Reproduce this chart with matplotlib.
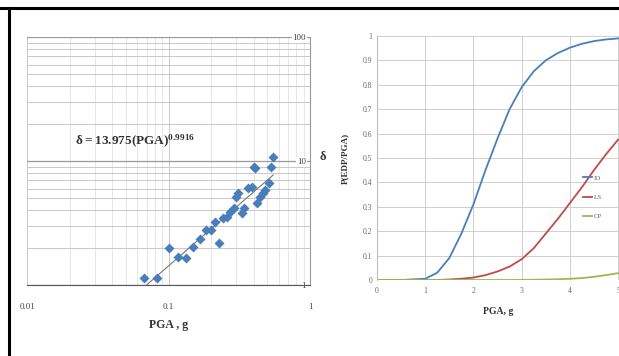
import numpy as np
import matplotlib
matplotlib.use("Agg")
import matplotlib.pyplot as plt
from matplotlib.ticker import LogLocator, NullFormatter

plt.rcParams["font.family"] = ["Liberation Serif", "DejaVu Serif"]

# left panel: drift vs PGA (log-log)
pga_pts = [0.067, 0.083, 0.100, 0.116, 0.133, 0.150, 0.166, 0.184, 0.199, 0.213,
           0.229, 0.242, 0.258, 0.272, 0.288, 0.300, 0.312, 0.333, 0.344, 0.367,
           0.388, 0.403, 0.409, 0.425, 0.444, 0.469, 0.481, 0.516, 0.527, 0.551]
drift_pts = [1.13, 1.13, 1.98, 1.69, 1.64, 2.04, 2.34, 2.78, 2.78, 3.24,
             2.17, 3.45, 3.56, 3.90, 4.15, 5.16, 5.48, 3.78, 4.15, 6.02,
             6.21, 9.00, 8.70, 4.56, 5.16, 5.48, 5.84, 6.61, 9.00, 10.8]
fit_a = 13.975
fit_b = 0.9916
fit_range = [0.067, 0.55]

# right panel: fragility curves
pga_grid = [0, 0.5, 1.0, 1.25, 1.5, 1.75, 2.0, 2.25, 2.5, 2.75, 3.0, 3.25,
            3.5, 3.75, 4.0, 4.25, 4.5, 4.75, 5.0]
p_io = [0, 0, 0.005, 0.03, 0.09, 0.19, 0.31, 0.45, 0.58, 0.70, 0.79, 0.855,
        0.90, 0.93, 0.952, 0.968, 0.979, 0.986, 0.99]
p_ls = [0, 0, 0, 0, 0.002, 0.005, 0.01, 0.02, 0.035, 0.055, 0.085, 0.13,
        0.19, 0.25, 0.315, 0.38, 0.45, 0.515, 0.575]
p_cp = [0, 0, 0, 0, 0, 0, 0, 0, 0, 0, 0.0005, 0.001,
        0.002, 0.003, 0.005, 0.008, 0.013, 0.02, 0.028]
curve_labels = ["IO", "LS", "CP"]
curve_colors = ["#4A7EBB", "#BE4B48", "#98B954"]

W, H = 619, 356
fig = plt.figure(figsize=(W / 100, H / 100), dpi=100)

# black frame lines (top and left)
fig.add_artist(plt.Line2D([0, 1], [1 - 8 / H, 1 - 8 / H], color="black", lw=2.2))
fig.add_artist(plt.Line2D([8.5 / W, 8.5 / W], [0, 1 - 8 / H], color="black", lw=2.2))

# ---- left panel ----
ax1 = fig.add_axes([27 / W, 1 - 285 / H, 283 / W, 248 / H])
ax1.set_xscale("log")
ax1.set_yscale("log")
ax1.set_xlim(0.01, 1)
ax1.set_ylim(1, 100)
ax1.xaxis.set_minor_locator(LogLocator(base=10, subs=np.arange(2, 10)))
ax1.yaxis.set_minor_locator(LogLocator(base=10, subs=np.arange(2, 10)))
ax1.xaxis.set_minor_formatter(NullFormatter())
ax1.yaxis.set_minor_formatter(NullFormatter())
ax1.grid(which="major", axis="y", color="#9a9a9a", lw=0.9)
ax1.grid(which="minor", axis="y", color="#c8c8c8", lw=0.7)
ax1.grid(which="major", axis="x", color="#c8c8c8", lw=0.7)
ax1.grid(which="minor", axis="x", color="#e2e2e2", lw=0.6)
for s in ["top", "left"]:
    ax1.spines[s].set_visible(False)
ax1.spines["bottom"].set_color("#555555")
ax1.spines["right"].set_color("#9a9a9a")
ax1.spines["right"].set_linewidth(0.8)
ax1.set_xticks([0.01, 0.1, 1])
ax1.set_xticklabels(["0.01", "0.1", "1"])
ax1.yaxis.tick_right()
ax1.set_yticks([1, 10, 100])
ax1.set_yticklabels(["1", "10", "100"])
ax1.tick_params(which="both", length=0)
ax1.tick_params(axis="x", labelsize=6.5, colors="#444444", pad=13)
ax1.tick_params(axis="y", labelsize=6.5, colors="#444444", pad=-3)
for lab in ax1.get_yticklabels():
    lab.set_ha("right")
    lab.set_bbox(dict(facecolor="white", edgecolor="none", pad=0.5))

fx = np.geomspace(fit_range[0], fit_range[1], 50)
ax1.plot(fx, fit_a * fx ** fit_b, color="#777777", lw=0.8, zorder=3)
ax1.scatter(pga_pts, drift_pts, marker="D", s=26, color="#4A7EBB", zorder=4, linewidths=0)
ax1.text(0.17, 0.565, r"$\mathregular{\delta = 13.975(PGA)^{0.9916}}$", transform=ax1.transAxes,
         fontsize=9.5, color="#333333", fontweight="bold")
ax1.set_xlabel("PGA , g", fontsize=8.5, fontweight="bold", color="#333333", labelpad=6)
fig.text(323 / W, 1 - 157 / H, "δ", fontsize=9, fontweight="bold", color="#333333",
         ha="center", va="center")

# ---- right panel ----
ax2 = fig.add_axes([377 / W, 1 - 280 / H, 242 / W, 244 / H])
for lab, col, vals in zip(curve_labels, curve_colors, [p_io, p_ls, p_cp]):
    ax2.plot(pga_grid, vals, color=col, lw=1.3, label=lab)
ax2.set_xlim(0, 5.02)
ax2.set_ylim(0, 1)
ax2.set_xticks(range(0, 6))
ax2.set_yticks(np.arange(0, 1.01, 0.1))
ax2.set_yticklabels(["0"] + [f"{v:.1f}" for v in np.arange(0.1, 0.95, 0.1)] + ["1"])
ax2.grid(color="#cfcfcf", lw=0.7)
for s in ["top", "right", "bottom"]:
    ax2.spines[s].set_visible(False)
ax2.spines["left"].set_color("#bbbbbb")
ax2.spines["left"].set_linewidth(0.7)
ax2.tick_params(length=0, labelsize=5.5, colors="#666666")
ax2.tick_params(axis="x", pad=5)
ax2.set_xlabel("PGA, g", fontsize=7, fontweight="bold", color="#333333", labelpad=9)
ax2.set_ylabel("P(EDP/PGA)", fontsize=6.5, fontweight="bold", color="#333333", labelpad=10)
leg = ax2.legend(loc="center right", bbox_to_anchor=(0.95, 0.34), frameon=False, fontsize=5,
                 handlelength=1.4, handletextpad=0.2, labelspacing=1.9, borderpad=0.2)
for t in leg.get_texts():
    t.set_color("#666666")

fig.savefig("out.png", dpi=100)
